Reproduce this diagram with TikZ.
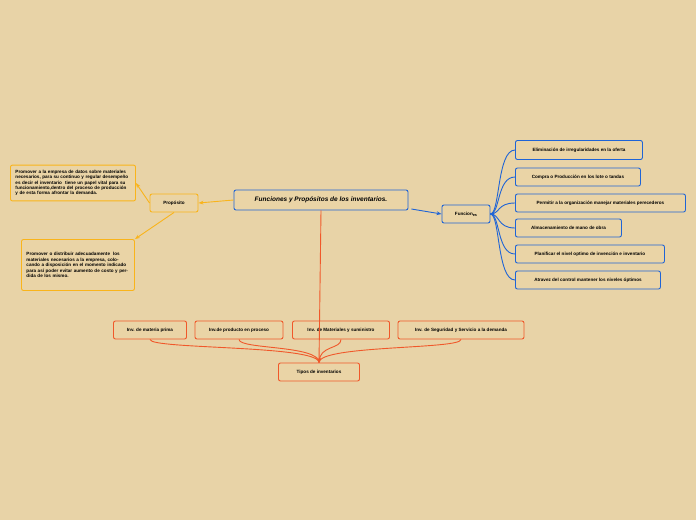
\documentclass[tikz,border=0pt]{standalone}
\usepackage{fontspec}
\setmainfont{Liberation Sans}
\usetikzlibrary{arrows.meta}
\definecolor{bg}{HTML}{E8D3A7}
\definecolor{boxfill}{HTML}{EAD4A6}
\definecolor{org}{HTML}{F9B41B}
\definecolor{blu}{HTML}{1F64D6}
\definecolor{red}{HTML}{F0582A}
\tikzset{
  box/.style={draw, line width=0.9pt, rounded corners=2pt, fill=boxfill, font=\fontsize{4.6}{5.4}\selectfont\bfseries, inner sep=0pt, minimum height=18pt, align=center},
  obox/.style={box, draw=org},
  bbox/.style={box, draw=blu},
  rbox/.style={box, draw=red},
  tbox/.style={obox, align=left, text width=#1, inner sep=5pt},
  arr/.style={-{Stealth[length=5pt]}, line width=0.9pt}
}
\begin{document}
\begin{tikzpicture}[x=1pt,y=-1pt]
  \fill[bg] (0,0) rectangle (696,520);
  \useasboundingbox (0,0) rectangle (696,520);
  %Define nodes
  \node[bbox, minimum width=174pt, minimum height=20pt, font=\fontsize{6.5}{7}\selectfont\bfseries\itshape] (main) at (321,200) {Funciones y Propósitos de los inventarios.};
  \node[obox, minimum width=48pt] (prop) at (174,203) {Propósito};
  \node[tbox=115pt] (p1) at (73,183) {Promover a la empresa de datos sobre materiales necesarios, para su continuo y regular desempeño\ \ es decir el inventario\ \ tiene un papel vital para su funcionamiento,dentro del proceso de producción\ \ y de esta forma afrontar la demanda.};
  \node[tbox=103pt, minimum height=51pt] (p2) at (78,265) {Promover o distribuir adecuadamente\ \ los materiales necesarios a la empresa, colocando a disposición en el momento indicado para así poder evitar aumento de costo y perdida de los mismo.};
  \node[bbox, minimum width=48pt] (func) at (466,214) {Funcion\raisebox{-1pt}{\fontsize{3.8}{4}\selectfont es}};
  \node[bbox, anchor=west, minimum width=127pt, minimum height=19pt] (f1) at (515,150) {Eliminación de irregularidades en la oferta};
  \node[bbox, anchor=west, minimum width=125pt] (f2) at (515,177) {Compra o Producción en los lote o tandas};
  \node[bbox, anchor=west, minimum width=170pt] (f3) at (515,203) {Permitir a la organización manejar materiales perecederos};
  \node[bbox, anchor=west, minimum width=106pt] (f4) at (515,228) {Almacenamiento de mano de obra};
  \node[bbox, anchor=west, minimum width=149pt] (f5) at (515,254) {Planificar el nivel optimo de invención e inventario};
  \node[bbox, anchor=west, minimum width=145pt] (f6) at (515,280) {Atravez del control mantener los niveles óptimos};
  \node[rbox, minimum width=73pt] (i1) at (150,330) {Inv. de materia prima};
  \node[rbox, minimum width=88pt] (i2) at (239,330) {Inv.de producto en proceso};
  \node[rbox, minimum width=97pt] (i3) at (341,330) {Inv. de Materiales y suministro};
  \node[rbox, minimum width=126pt] (i4) at (461,330) {Inv. de Seguridad y Servicio a la demanda};
  \node[rbox, minimum width=81pt] (tipos) at (319,372) {Tipos de inventarios};

  % Connect the nodes
  \draw[arr, org] (main.west) -- (prop.east);
  \draw[arr, org] (prop.west) -- (p1.east);
  \draw[arr, org] (prop.south) -- (p2.north east);
  \draw[arr, blu] (main.east) ++(3,9) coordinate (m1) -- (func.west);
  \foreach \f in {f1,f2,f3,f4,f5,f6}
    \draw[blu, line width=0.9pt] (func.east) .. controls (500,214) and ([xshift=-18pt]\f.west) .. (\f.west);
  \draw[arr, red] (main.south) -- (tipos.north);
  \foreach \i in {i1,i2,i3,i4}
    \draw[red, line width=0.9pt] (\i.south) .. controls ([yshift=-10pt]\i.south) and (319,345) .. (tipos.north);
\end{tikzpicture}
\end{document}
